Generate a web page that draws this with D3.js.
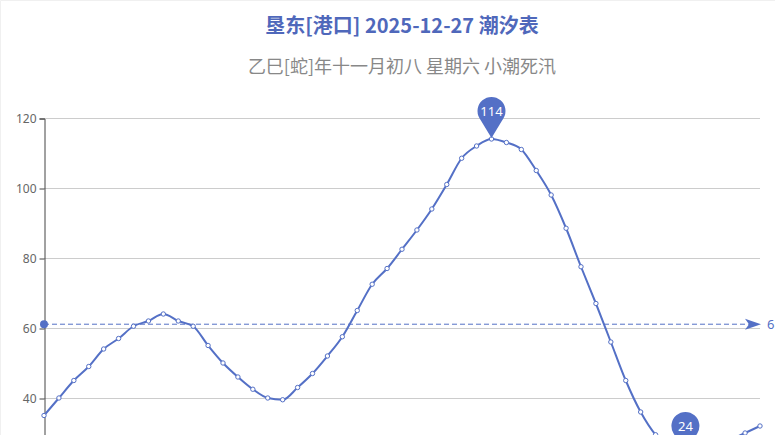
<!DOCTYPE html>
<html>
<head>
<meta charset="utf-8">
<title>垦东[港口] 2025-12-27 潮汐表</title>
<script src="https://cdn.jsdelivr.net/npm/d3@7"></script>
<style>
    html, body { margin: 0; padding: 0; background: #fff; overflow: hidden; }
    #tide-chart { width: 775px; height: 435px; }
    svg { display: block; font-family: "Noto Sans CJK SC", "Noto Sans", sans-serif; }
</style>
</head>
<body>
<div id="tide-chart"></div>
<script>

// chart data
const titleText = "垦东[港口] 2025-12-27 潮汐表";
const subText = "乙巳[蛇]年十一月初八 星期六 小潮死汛";

const times = [
    "00:00", "00:30", "01:00", "01:30", "02:00", "02:30", "03:00", "03:30",
    "04:00", "04:30", "05:00", "05:30", "06:00", "06:30", "07:00", "07:30",
    "08:00", "08:30", "09:00", "09:30", "10:00", "10:30", "11:00", "11:30",
    "12:00", "12:30", "13:00", "13:30", "14:00", "14:30", "15:00", "15:30",
    "16:00", "16:30", "17:00", "17:30", "18:00", "18:30", "19:00", "19:30",
    "20:00", "20:30", "21:00", "21:30", "22:00", "22:30", "23:00", "23:30",
    "24:00"
];

// tide height (cm)
const tideLevels = [
    35, 40, 45, 49, 54, 57, 60.5, 62, 64, 62,
    60.5, 55, 50, 46, 42.5, 40, 39.5, 43, 47, 52,
    57.5, 65, 72.5, 77, 82.5, 88, 94, 101, 108.5, 112,
    114, 113, 111, 105, 98, 88.5, 77.5, 67, 56, 45,
    36, 29.5, 26, 24, 24.5, 26, 28, 30, 32
];

// only the ticks inside the visible part of the chart
const yTicks = [40, 60, 80, 100, 120];


class TideChart {

    constructor(_parentElement, _times, _levels) {
        this.parentElement = _parentElement;
        this.times = _times;
        this.levels = _levels;

        this.initVis();
    }

    initVis() {
        let vis = this;

        vis.width = 775;
        vis.height = 435;
        vis.centerX = 402;
        vis.color = "#5470c6";

        vis.svg = d3.select("#" + vis.parentElement).append("svg")
            .attr("width", vis.width)
            .attr("height", vis.height);

        // faint frame of the container
        vis.svg.append("path")
            .attr("d", "M0.5," + vis.height + "V0.5H" + vis.width)
            .attr("fill", "none")
            .attr("stroke", "#f0f0f0");

        vis.svg.append("text")
            .attr("x", vis.centerX)
            .attr("y", 33)
            .attr("text-anchor", "middle")
            .attr("font-size", 20)
            .attr("font-weight", "bold")
            .attr("fill", "#4f68bb")
            .text(titleText);

        vis.svg.append("text")
            .attr("x", vis.centerX)
            .attr("y", 73)
            .attr("text-anchor", "middle")
            .attr("font-size", 18)
            .attr("fill", "#888")
            .text(subText);

        // scales
        vis.x = d3.scalePoint()
            .domain(vis.times)
            .range([44, 760]);

        vis.y = d3.scaleLinear()
            .domain([0, 120])
            .range([538, 118]);

        // grid lines
        vis.svg.append("g")
            .attr("class", "grid")
            .selectAll("line")
            .data(yTicks)
            .join("line")
            .attr("x1", 44)
            .attr("x2", 760)
            .attr("y1", d => vis.y(d) + 0.5)
            .attr("y2", d => vis.y(d) + 0.5)
            .attr("stroke", "#ccc");

        // y axis
        vis.yAxis = d3.axisLeft(vis.y)
            .tickValues(yTicks)
            .tickSize(5)
            .tickPadding(3);

        vis.yAxisG = vis.svg.append("g")
            .attr("transform", "translate(44.5,0.5)")
            .call(vis.yAxis);
        vis.yAxisG.select(".domain").attr("stroke", "#444");
        vis.yAxisG.selectAll(".tick line").attr("stroke", "#444");
        vis.yAxisG.selectAll(".tick text")
            .attr("fill", "#666")
            .attr("font-size", 12)
            .attr("font-family", "\"Noto Sans\", sans-serif");

        vis.wrangleData();
    }

    wrangleData() {
        let vis = this;

        vis.points = vis.times.map((t, i) => ({ time: t, level: vis.levels[i] }));
        vis.avg = d3.mean(vis.levels);

        let maxIdx = d3.maxIndex(vis.levels);
        let minIdx = d3.minIndex(vis.levels);
        vis.marks = [vis.points[maxIdx], vis.points[minIdx]];

        vis.updateVis();
    }

    updateVis() {
        let vis = this;

        // average line
        let avgY = vis.y(vis.avg);
        let avgG = vis.svg.append("g").attr("class", "avg");

        avgG.append("line")
            .attr("x1", 44)
            .attr("x2", 752)
            .attr("y1", avgY)
            .attr("y2", avgY)
            .attr("stroke", vis.color)
            .attr("stroke-width", 1)
            .attr("stroke-dasharray", "5,3");

        avgG.append("circle")
            .attr("cx", 44)
            .attr("cy", avgY)
            .attr("r", 4)
            .attr("fill", vis.color);

        avgG.append("path")
            .attr("d", "M761," + avgY + "L745," + (avgY - 5.5) + "L749," + avgY + "L745," + (avgY + 5.5) + "Z")
            .attr("fill", vis.color);

        avgG.append("text")
            .attr("x", 767)
            .attr("y", avgY)
            .attr("dy", "0.35em")
            .attr("font-size", 13)
            .attr("font-family", "\"Noto Sans\", sans-serif")
            .attr("fill", vis.color)
            .text(d3.format(".2f")(vis.avg));

        // tide curve
        let line = d3.line()
            .x(d => vis.x(d.time))
            .y(d => vis.y(d.level))
            .curve(d3.curveMonotoneX);

        vis.svg.append("path")
            .datum(vis.points)
            .attr("fill", "none")
            .attr("stroke", vis.color)
            .attr("stroke-width", 2)
            .attr("d", line);

        vis.svg.append("g")
            .selectAll("circle")
            .data(vis.points)
            .join("circle")
            .attr("cx", d => vis.x(d.time))
            .attr("cy", d => vis.y(d.level))
            .attr("r", 2.2)
            .attr("fill", "#fff")
            .attr("stroke", vis.color)
            .attr("stroke-width", 1);

        // max / min pins
        let r = 14, dist = 27;
        let theta = Math.acos(r / dist);
        let tx = r * Math.sin(theta), ty = -dist + r * Math.cos(theta);
        let pinPath = "M0,0L" + (-tx) + "," + ty +
            "A" + r + "," + r + " 0 1 1 " + tx + "," + ty + "Z";

        let pins = vis.svg.append("g")
            .selectAll("g")
            .data(vis.marks)
            .join("g")
            .attr("transform", d => "translate(" + vis.x(d.time) + "," + (vis.y(d.level) - 1) + ")");

        pins.append("path")
            .attr("d", pinPath)
            .attr("fill", vis.color);

        pins.append("text")
            .attr("y", -dist)
            .attr("dy", "0.36em")
            .attr("text-anchor", "middle")
            .attr("font-size", 13)
            .attr("font-family", "\"Noto Sans\", sans-serif")
            .attr("fill", "#fff")
            .text(d => d.level);
    }
}

new TideChart("tide-chart", times, tideLevels);

</script>
</body>
</html>
